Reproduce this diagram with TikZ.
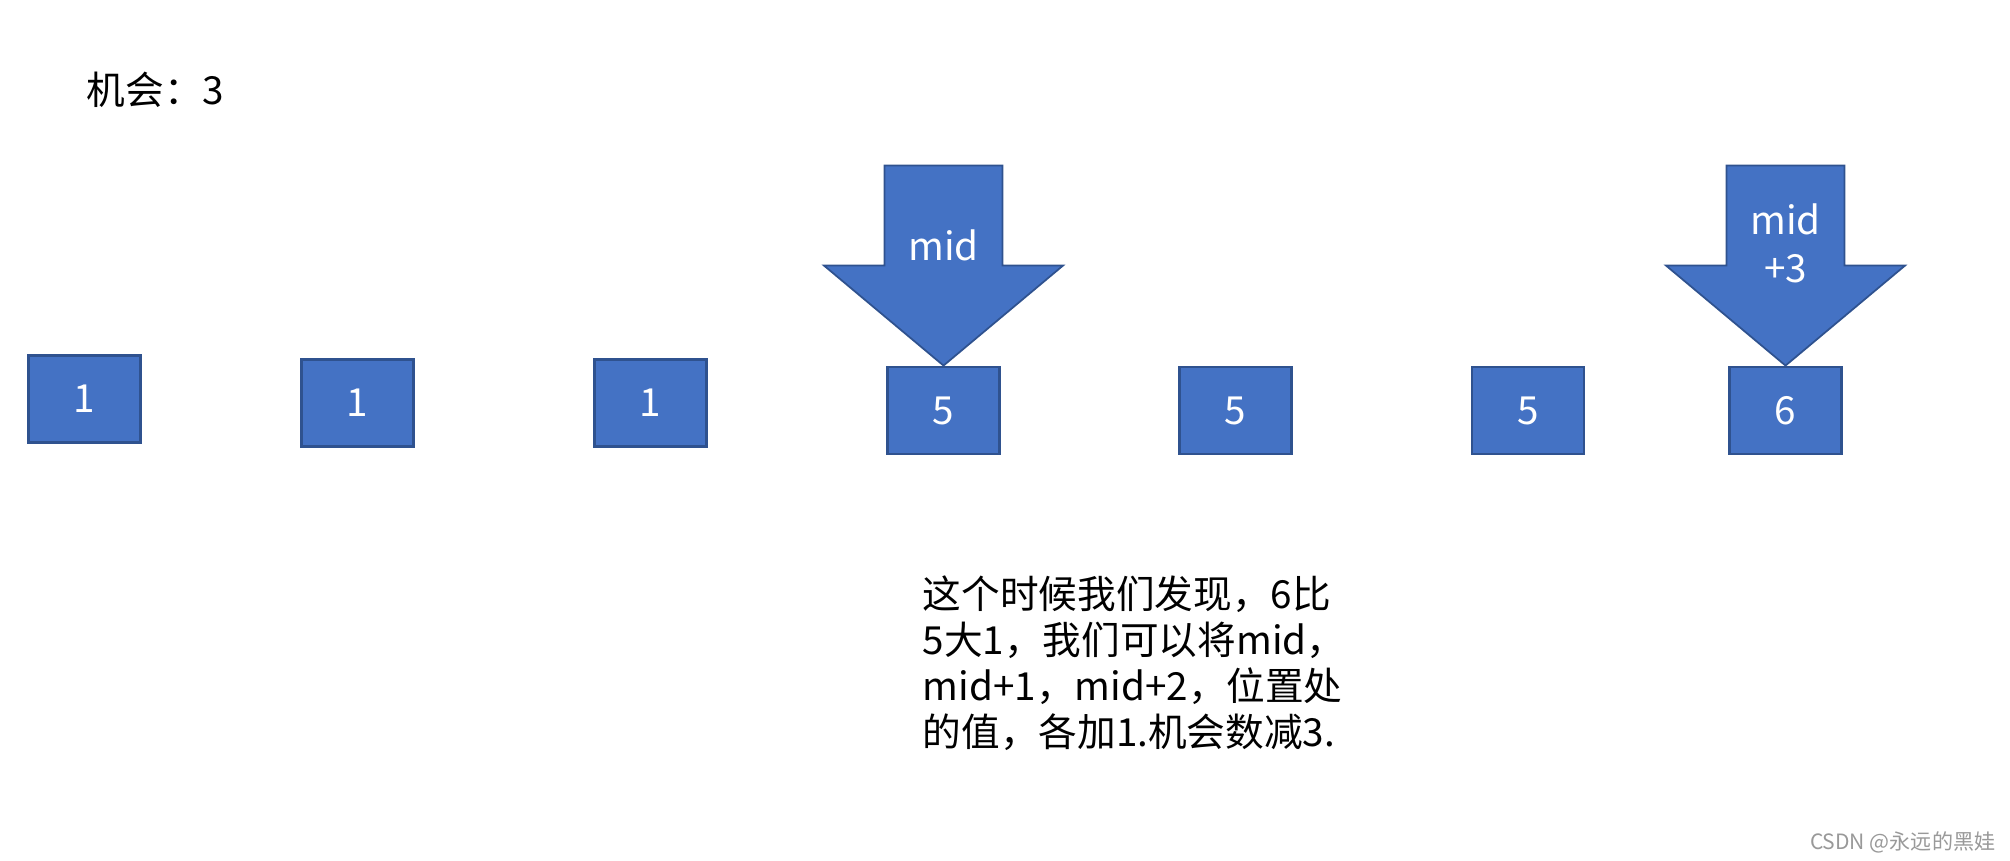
\documentclass[tikz,border=0pt]{standalone}
\usepackage{fontspec}
\usetikzlibrary{positioning,calc}
\newfontfamily\cjk{Noto Sans CJK SC}
\definecolor{boxblue}{HTML}{4472C4}
\definecolor{boxedge}{HTML}{2F528F}
\tikzstyle{numbox}=[rectangle, draw=boxedge, fill=boxblue, line width=0.8pt, minimum width=11.2mm, minimum height=8.7mm, inner sep=0pt, text=white, font=\cjk\fontsize{11}{13}\selectfont]
\tikzstyle{ptrarrow}=[draw=boxedge, fill=boxblue, line width=0.5pt, line join=miter]
\tikzstyle{ptrlabel}=[inner sep=0pt, text=white, align=center, font=\cjk\fontsize{11}{13.5}\selectfont]
\tikzstyle{note}=[inner sep=0pt, align=left, font=\cjk\fontsize{11}{13.1}\selectfont]

\begin{document}
\begin{tikzpicture}
\useasboundingbox (0,0) rectangle (20.1,8.61);
\node (CHANCE) [note, anchor=west] at (0.86,7.71) {机会：3};
% the array
\node (B1) [numbox] at (0.845,4.62) {1};
\node (B2) [numbox] at (3.575,4.58) {1};
\node (B3) [numbox] at (6.505,4.58) {1};
\node (B4) [numbox] at (9.435,4.505) {5};
\node (B5) [numbox] at (12.355,4.505) {5};
\node (B6) [numbox] at (15.28,4.505) {5};
\node (B7) [numbox] at (17.855,4.505) {6};
% pointers
\draw[ptrarrow] (B4.north) -- ++(-1.195,1) -- ++(0.605,0) -- ++(0,1) -- ++(1.18,0) -- ++(0,-1) -- ++(0.605,0) -- cycle;
\node (MID) [ptrlabel] at ($(B4.north)+(0,1.2)$) {mid};
\draw[ptrarrow] (B7.north) -- ++(-1.195,1) -- ++(0.605,0) -- ++(0,1) -- ++(1.18,0) -- ++(0,-1) -- ++(0.605,0) -- cycle;
\node (MID3) [ptrlabel] at ($(B7.north)+(0,1.22)$) {mid\\+3};
\node (NOTE) [note, anchor=north west] at (9.22,2.86) {这个时候我们发现，6比\\5大1，我们可以将mid，\\mid+1，mid+2，位置处\\的值，各加1.机会数减3.};
\node (MARK) [inner sep=0pt, anchor=east, text=black!40, font=\cjk\fontsize{6}{7}\selectfont] at (19.96,0.19) {CSDN @永远的黑娃};
\end{tikzpicture}
\end{document}
